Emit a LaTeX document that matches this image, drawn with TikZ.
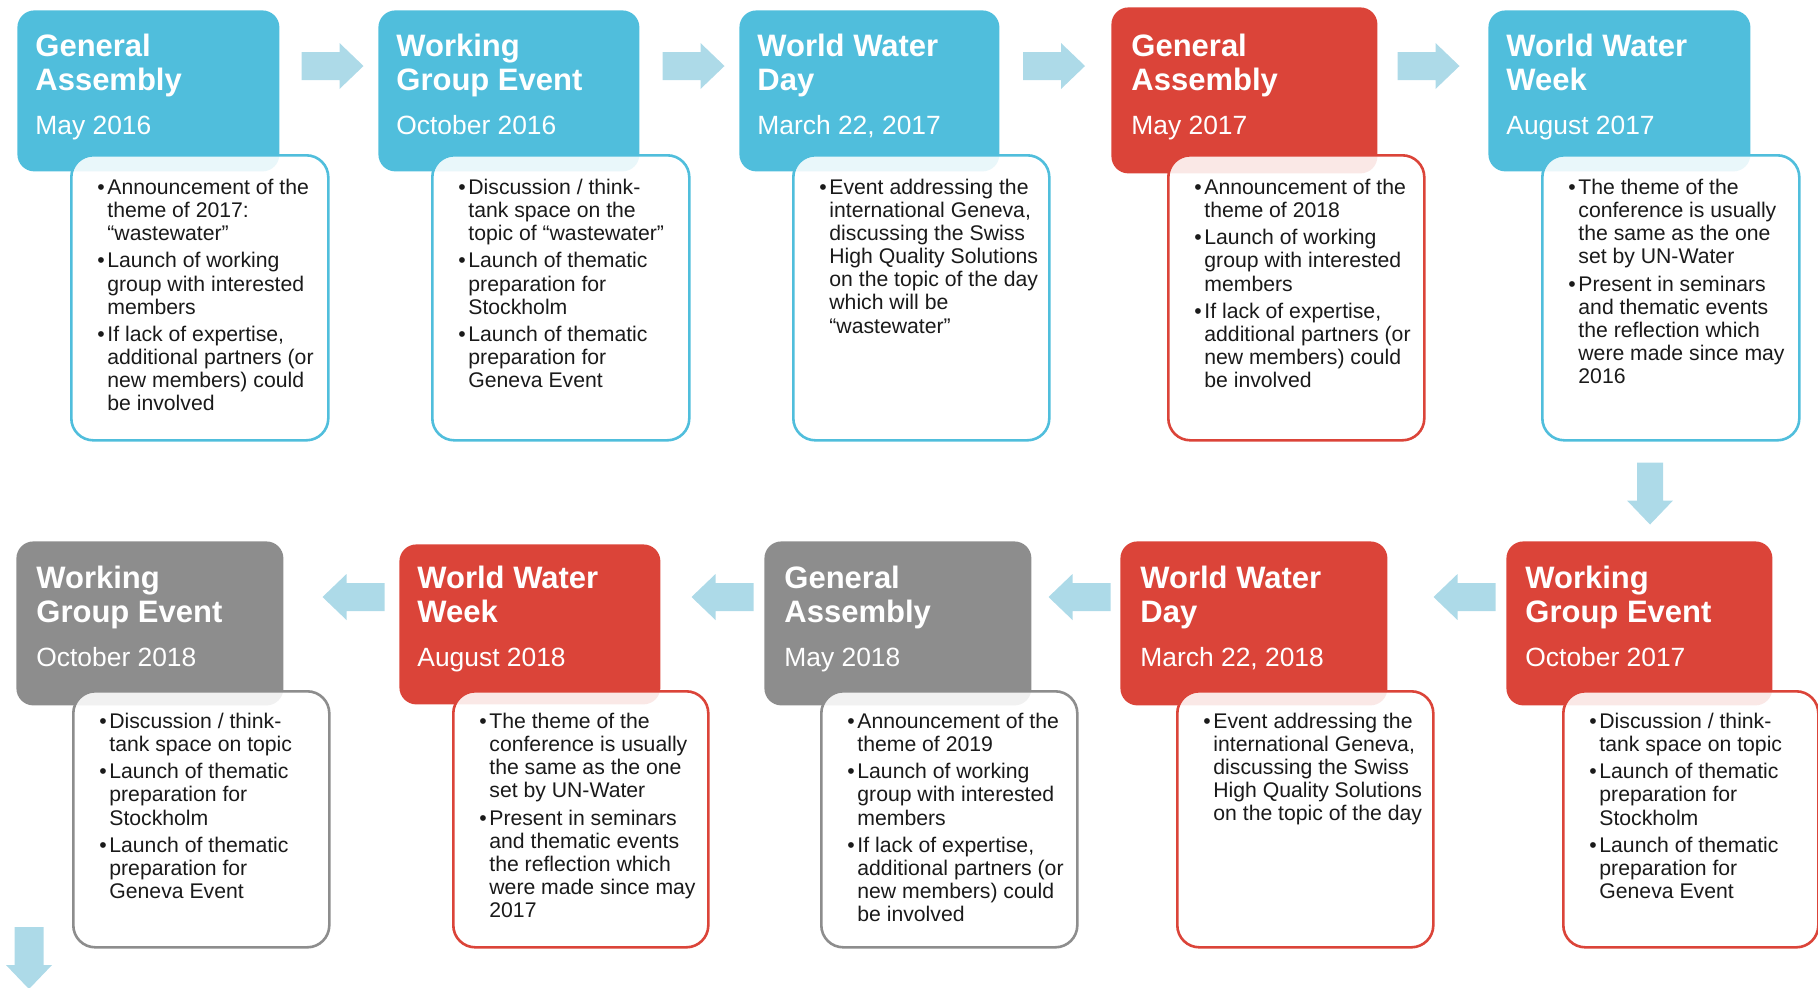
\documentclass[tikz,border=0pt]{standalone}
\usepackage{fontspec}
\setmainfont{Liberation Sans}
\definecolor{cblue}{HTML}{50BEDC}
\definecolor{cred}{HTML}{DB4439}
\definecolor{cgrey}{HTML}{8D8D8D}
\definecolor{carrow}{HTML}{ADDAE8}
\definecolor{ctext}{HTML}{1A1A1A}
\newcommand\bul{\makebox[5pt][l]{\textbullet}}
\newcommand\ind{\hspace*{5pt}}
\newcommand\fst{\rule{0pt}{8pt}}
\newcommand\rarr[2]{\fill[arrowc] (#1-31,#2-14) -- (#1+7,#2-14) -- (#1+7,#2-23) -- (#1+31,#2) -- (#1+7,#2+23) -- (#1+7,#2+14) -- (#1-31,#2+14) -- cycle;}
\newcommand\larr[2]{\fill[arrowc] (#1+31,#2-14) -- (#1-7,#2-14) -- (#1-7,#2-23) -- (#1-31,#2) -- (#1-7,#2+23) -- (#1-7,#2+14) -- (#1+31,#2+14) -- cycle;}
\newcommand\darr[3]{\fill[arrowc] (#1-#3,#2-31) -- (#1+#3,#2-31) -- (#1+#3,#2+7) -- (#1+23,#2+7) -- (#1,#2+31) -- (#1-23,#2+7) -- (#1-#3,#2+7) -- cycle;}
\tikzset{
  arrowc/.style={fill=carrow},
  hdr/.style={anchor=north west, rounded corners=8.5pt, inner sep=0pt, draw=none},
  bodybox/.style={anchor=north west, rounded corners=11pt, inner sep=0pt, fill=white, fill opacity=0.88, line width=1.3pt},
  ttl/.style={anchor=north west, inner sep=0pt, text=white, align=left, font=\bfseries\fontsize{15.5}{17}\selectfont},
  dte/.style={anchor=base west, inner sep=0pt, text=white, font=\fontsize{13.2}{15}\selectfont},
  txt/.style={anchor=north west, inner sep=0pt, align=left, text=ctext, font=\fontsize{10.6}{11.55}\selectfont},
}
\begin{document}
\begin{tikzpicture}[x=0.5pt,y=-0.5pt]
\useasboundingbox (0,0) rectangle (1818,987);
\clip (0,0) rectangle (1818,987);
% ---------- top row ----------
% 1
\node[hdr, fill=cblue, minimum width=131pt, minimum height=80.5pt] (h1) at (17,10) {};
\node[bodybox, draw=cblue, minimum width=128.5pt, minimum height=142.5pt] (b1) at (70,154) {};
\node[ttl] (t1) at (35,32) {\rule{0pt}{12pt}General\\Assembly};
\node[dte] (d1) at (35,134) {May 2016};
\node[txt] (x1) at (97,178) {\fst\bul Announcement of the\\\ind theme of 2017:\\\ind “wastewater”\\[2.1pt]
\bul Launch of working\\\ind group with interested\\\ind members\\[2.1pt]
\bul If lack of expertise,\\\ind additional partners (or\\\ind new members) could\\\ind be involved};
% 2
\node[hdr, fill=cblue, minimum width=130.5pt, minimum height=80.5pt] (h2) at (378,10) {};
\node[bodybox, draw=cblue, minimum width=128.5pt, minimum height=142.5pt] (b2) at (431,154) {};
\node[ttl] (t2) at (396,32) {\rule{0pt}{12pt}Working\\Group Event};
\node[dte] (d2) at (396,134) {October 2016};
\node[txt] (x2) at (458,178) {\fst\bul Discussion / think-\\\ind tank space on the\\\ind topic of “wastewater”\\[2.1pt]
\bul Launch of thematic\\\ind preparation for\\\ind Stockholm\\[2.1pt]
\bul Launch of thematic\\\ind preparation for\\\ind Geneva Event};
% 3
\node[hdr, fill=cblue, minimum width=130pt, minimum height=80.5pt] (h3) at (739,10) {};
\node[bodybox, draw=cblue, minimum width=128pt, minimum height=142.5pt] (b3) at (792,154) {};
\node[ttl] (t3) at (757,32) {\rule{0pt}{12pt}World Water\\Day};
\node[dte] (d3) at (757,134) {March 22, 2017};
\node[txt] (x3) at (819,178) {\fst\bul Event addressing the\\\ind international Geneva,\\\ind discussing the Swiss\\\ind High Quality Solutions\\\ind on the topic of the day\\\ind which will be\\\ind “wastewater”};
% 4
\node[hdr, fill=cred, minimum width=133pt, minimum height=83pt] (h4) at (1111,7) {};
\node[bodybox, draw=cred, minimum width=128pt, minimum height=142.5pt] (b4) at (1167,154) {};
\node[ttl] (t4) at (1131,32) {\rule{0pt}{12pt}General\\Assembly};
\node[dte] (d4) at (1131,134) {May 2017};
\node[txt] (x4) at (1194,178) {\fst\bul Announcement of the\\\ind theme of 2018\\[2.1pt]
\bul Launch of working\\\ind group with interested\\\ind members\\[2.1pt]
\bul If lack of expertise,\\\ind additional partners (or\\\ind new members) could\\\ind be involved};
% 5
\node[hdr, fill=cblue, minimum width=131pt, minimum height=80.5pt] (h5) at (1488,10) {};
\node[bodybox, draw=cblue, minimum width=128.5pt, minimum height=142.5pt] (b5) at (1541,154) {};
\node[ttl] (t5) at (1506,32) {\rule{0pt}{12pt}World Water\\Week};
\node[dte] (d5) at (1506,134) {August 2017};
\node[txt] (x5) at (1568,178) {\fst\bul The theme of the\\\ind conference is usually\\\ind the same as the one\\\ind set by UN-Water\\[2.1pt]
\bul Present in seminars\\\ind and thematic events\\\ind the reflection which\\\ind were made since may\\\ind 2016};
% ---------- bottom row ----------
% 6
\node[hdr, fill=cred, minimum width=133pt, minimum height=82pt] (h6) at (1506,541) {};
\node[bodybox, draw=cred, minimum width=127.5pt, minimum height=128pt] (b6) at (1562,690) {};
\node[ttl] (t6) at (1525,564) {\rule{0pt}{12pt}Working\\Group Event};
\node[dte] (d6) at (1525,666) {October 2017};
\node[txt] (x6) at (1589,712) {\fst\bul Discussion / think-\\\ind tank space on topic\\[2.1pt]
\bul Launch of thematic\\\ind preparation for\\\ind Stockholm\\[2.1pt]
\bul Launch of thematic\\\ind preparation for\\\ind Geneva Event};
% 7
\node[hdr, fill=cred, minimum width=133.5pt, minimum height=82pt] (h7) at (1120,541) {};
\node[bodybox, draw=cred, minimum width=128pt, minimum height=128pt] (b7) at (1176,690) {};
\node[ttl] (t7) at (1140,564) {\rule{0pt}{12pt}World Water\\Day};
\node[dte] (d7) at (1140,666) {March 22, 2018};
\node[txt] (x7) at (1203,712) {\fst\bul Event addressing the\\\ind international Geneva,\\\ind discussing the Swiss\\\ind High Quality Solutions\\\ind on the topic of the day};
% 8
\node[hdr, fill=cgrey, minimum width=133.5pt, minimum height=82pt] (h8) at (764,541) {};
\node[bodybox, draw=cgrey, minimum width=128pt, minimum height=128pt] (b8) at (820,690) {};
\node[ttl] (t8) at (784,564) {\rule{0pt}{12pt}General\\Assembly};
\node[dte] (d8) at (784,666) {May 2018};
\node[txt] (x8) at (847,712) {\fst\bul Announcement of the\\\ind theme of 2019\\[2.1pt]
\bul Launch of working\\\ind group with interested\\\ind members\\[2.1pt]
\bul If lack of expertise,\\\ind additional partners (or\\\ind new members) could\\\ind be involved};
% 9
\node[hdr, fill=cred, minimum width=130.5pt, minimum height=80pt] (h9) at (399,544) {};
\node[bodybox, draw=cred, minimum width=127.5pt, minimum height=128pt] (b9) at (452,690) {};
\node[ttl] (t9) at (417,564) {\rule{0pt}{12pt}World Water\\Week};
\node[dte] (d9) at (417,666) {August 2018};
\node[txt] (x9) at (479,712) {\fst\bul The theme of the\\\ind conference is usually\\\ind the same as the one\\\ind set by UN-Water\\[2.1pt]
\bul Present in seminars\\\ind and thematic events\\\ind the reflection which\\\ind were made since may\\\ind 2017};
% 10
\node[hdr, fill=cgrey, minimum width=133.5pt, minimum height=82pt] (h10) at (16,541) {};
\node[bodybox, draw=cgrey, minimum width=128pt, minimum height=128pt] (b10) at (72,690) {};
\node[ttl] (t10) at (36,564) {\rule{0pt}{12pt}Working\\Group Event};
\node[dte] (d10) at (36,666) {October 2018};
\node[txt] (x10) at (99,712) {\fst\bul Discussion / think-\\\ind tank space on topic\\[2.1pt]
\bul Launch of thematic\\\ind preparation for\\\ind Stockholm\\[2.1pt]
\bul Launch of thematic\\\ind preparation for\\\ind Geneva Event};
% ---------- arrows ----------
\rarr{332.5}{66}
\rarr{693.5}{66}
\rarr{1054}{66}
\rarr{1428.5}{66}
\darr{1650}{493.5}{13}
\larr{1464.5}{597}
\larr{1079.5}{597}
\larr{722.5}{597}
\larr{353.5}{597}
\darr{29}{958}{14.5}
\end{tikzpicture}
\end{document}
